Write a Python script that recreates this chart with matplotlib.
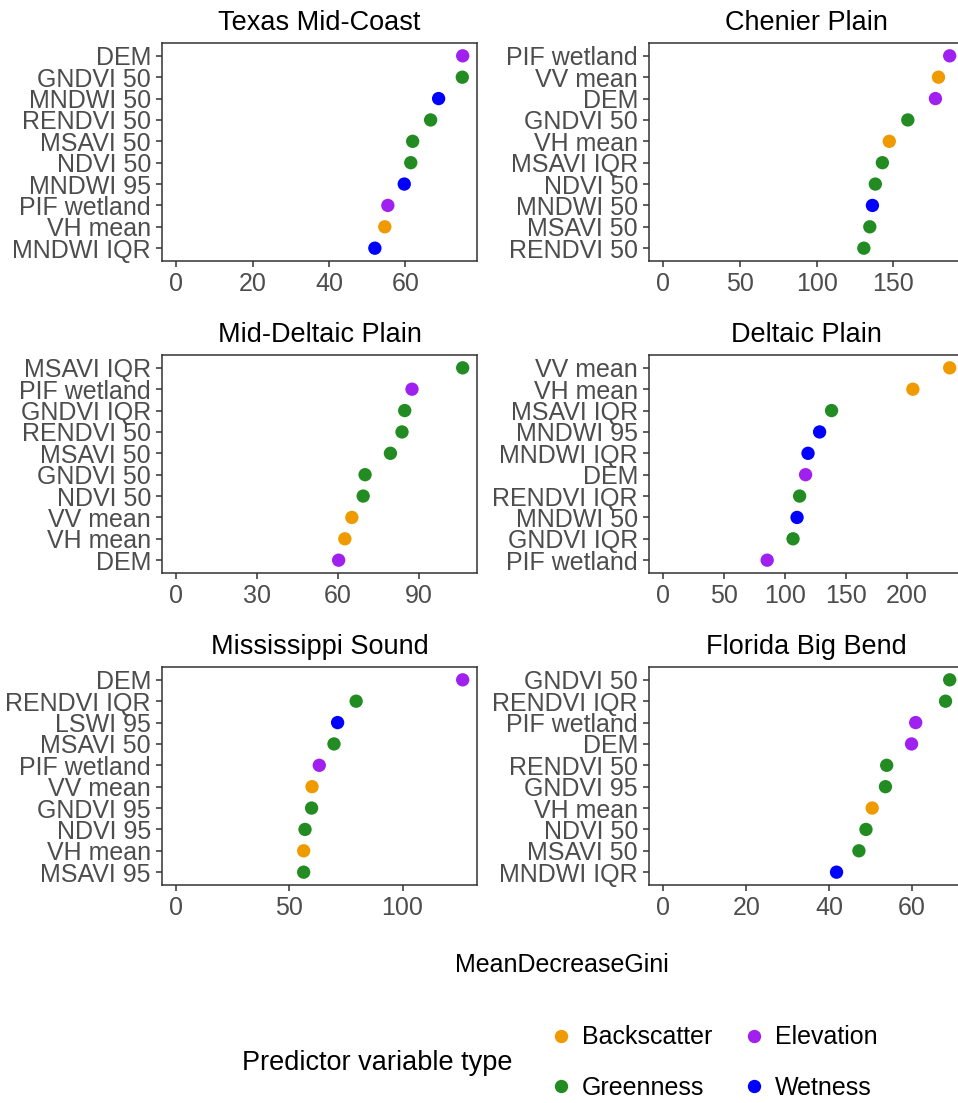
import matplotlib
matplotlib.use("Agg")
import matplotlib.pyplot as plt
from matplotlib.lines import Line2D

plt.rcParams['font.family'] = ['Liberation Sans', 'DejaVu Sans']

# colours per predictor type
type_colors = {
    "Backscatter": "#EE9A00",
    "Elevation": "#A020F0",
    "Greenness": "#228B22",
    "Wetness": "#0000FF",
}

# --- data, listed from top to bottom of each panel ---
texas_vars = ["DEM", "GNDVI 50", "MNDWI 50", "RENDVI 50", "MSAVI 50", "NDVI 50",
              "MNDWI 95", "PIF wetland", "VH mean", "MNDWI IQR"]
texas_vals = [75.0, 74.9, 68.7, 66.6, 61.9, 61.4, 59.7, 55.4, 54.6, 52.0]
texas_types = ["Elevation", "Greenness", "Wetness", "Greenness", "Greenness", "Greenness",
               "Wetness", "Elevation", "Backscatter", "Wetness"]
texas_ticks = [0, 20, 40, 60]

chenier_vars = ["PIF wetland", "VV mean", "DEM", "GNDVI 50", "VH mean", "MSAVI IQR",
                "NDVI 50", "MNDWI 50", "MSAVI 50", "RENDVI 50"]
chenier_vals = [186.8, 179.5, 177.5, 159.5, 147.4, 142.9, 138.3, 136.4, 134.7, 130.8]
chenier_types = ["Elevation", "Backscatter", "Elevation", "Greenness", "Backscatter", "Greenness",
                 "Greenness", "Wetness", "Greenness", "Greenness"]
chenier_ticks = [0, 50, 100, 150]

middelta_vars = ["MSAVI IQR", "PIF wetland", "GNDVI IQR", "RENDVI 50", "MSAVI 50", "GNDVI 50",
                 "NDVI 50", "VV mean", "VH mean", "DEM"]
middelta_vals = [106.2, 87.4, 84.7, 83.7, 79.4, 70.0, 69.3, 65.1, 62.5, 60.2]
middelta_types = ["Greenness", "Elevation", "Greenness", "Greenness", "Greenness", "Greenness",
                  "Greenness", "Backscatter", "Backscatter", "Elevation"]
middelta_ticks = [0, 30, 60, 90]

deltaic_vars = ["VV mean", "VH mean", "MSAVI IQR", "MNDWI 95", "MNDWI IQR", "DEM",
                "RENDVI IQR", "MNDWI 50", "GNDVI IQR", "PIF wetland"]
deltaic_vals = [234.9, 204.7, 138.0, 128.2, 118.7, 116.7, 111.8, 109.7, 106.4, 85.2]
deltaic_types = ["Backscatter", "Backscatter", "Greenness", "Wetness", "Wetness", "Elevation",
                 "Greenness", "Wetness", "Greenness", "Elevation"]
deltaic_ticks = [0, 50, 100, 150, 200]

miss_vars = ["DEM", "RENDVI IQR", "LSWI 95", "MSAVI 50", "PIF wetland", "VV mean",
             "GNDVI 95", "NDVI 95", "VH mean", "MSAVI 95"]
miss_vals = [126.6, 79.5, 71.3, 69.7, 63.2, 60.0, 59.8, 56.9, 56.3, 56.3]
miss_types = ["Elevation", "Greenness", "Wetness", "Greenness", "Elevation", "Backscatter",
              "Greenness", "Greenness", "Backscatter", "Greenness"]
miss_ticks = [0, 50, 100]

florida_vars = ["GNDVI 50", "RENDVI IQR", "PIF wetland", "DEM", "RENDVI 50", "GNDVI 95",
                "VH mean", "NDVI 50", "MSAVI 50", "MNDWI IQR"]
florida_vals = [69.1, 68.1, 60.9, 59.9, 53.9, 53.6, 50.4, 48.9, 47.2, 41.8]
florida_types = ["Greenness", "Greenness", "Elevation", "Elevation", "Greenness", "Greenness",
                 "Backscatter", "Greenness", "Greenness", "Wetness"]
florida_ticks = [0, 20, 40, 60]

panels = [
    ("Texas Mid-Coast", texas_vars, texas_vals, texas_types, texas_ticks),
    ("Chenier Plain", chenier_vars, chenier_vals, chenier_types, chenier_ticks),
    ("Mid-Deltaic Plain", middelta_vars, middelta_vals, middelta_types, middelta_ticks),
    ("Deltaic Plain", deltaic_vars, deltaic_vals, deltaic_types, deltaic_ticks),
    ("Mississippi Sound", miss_vars, miss_vals, miss_types, miss_ticks),
    ("Florida Big Bend", florida_vars, florida_vals, florida_types, florida_ticks),
]

W, H = 958, 1103
fig = plt.figure(figsize=(W / 100, H / 100), dpi=100)

def px_axes(left, top, width, height):
    return fig.add_axes([left / W, 1 - (top + height) / H, width / W, height / H])

col_left = [162, 649]
row_top = [43, 355, 667]
panel_w, panel_h = 315, 218
edge = "#333333"

for i, (title, names, vals, types, ticks) in enumerate(panels):
    r, c = divmod(i, 2)
    ax = px_axes(col_left[c], row_top[r], panel_w, panel_h)
    n = len(names)
    ypos = list(range(n - 1, -1, -1))
    ax.scatter(vals, ypos, s=92, c=[type_colors[t] for t in types],
               linewidths=0, zorder=3, clip_on=False)
    top = max(vals)
    ax.set_xlim(-0.05 * top, top * 1.05)
    ax.set_ylim(-0.6, n - 0.4)
    ax.set_yticks(ypos)
    ax.set_yticklabels(names)
    ax.set_xticks(ticks)
    ax.set_xticklabels([str(t) for t in ticks])
    ax.tick_params(labelsize=18, labelcolor="#4D4D4D", color=edge,
                   length=4, width=1.1, pad=4)
    for sp in ax.spines.values():
        sp.set_color(edge)
        sp.set_linewidth(1.1)
    fig.text((col_left[c] + panel_w / 2) / W, 1 - (row_top[r] - 13.5) / H, title,
             ha="center", va="baseline", fontsize=19.5, color="black")

fig.text(562 / W, 1 - 972.5 / H, "MeanDecreaseGini", ha="center", va="baseline",
         fontsize=18, color="black")

fig.text(242 / W, 1 - 1063 / H, "Predictor variable type", ha="left", va="center",
         fontsize=19.5, color="black")

# legend fills column by column, so order gives rows Backscatter/Elevation, Greenness/Wetness
legend_order = ["Backscatter", "Greenness", "Elevation", "Wetness"]
handles = [Line2D([], [], marker="o", linestyle="none", markersize=9.6,
                  markerfacecolor=type_colors[name], markeredgewidth=0, label=name)
           for name in legend_order]
fig.legend(handles=handles, ncol=2, loc="center left",
           bbox_to_anchor=(548.5 / W, 1 - 1062.5 / H),
           frameon=False, fontsize=18, handlelength=1.0, handletextpad=0.34,
           columnspacing=1.18, labelspacing=1.05, borderpad=0, borderaxespad=0)

fig.savefig("out.png", dpi=100)
